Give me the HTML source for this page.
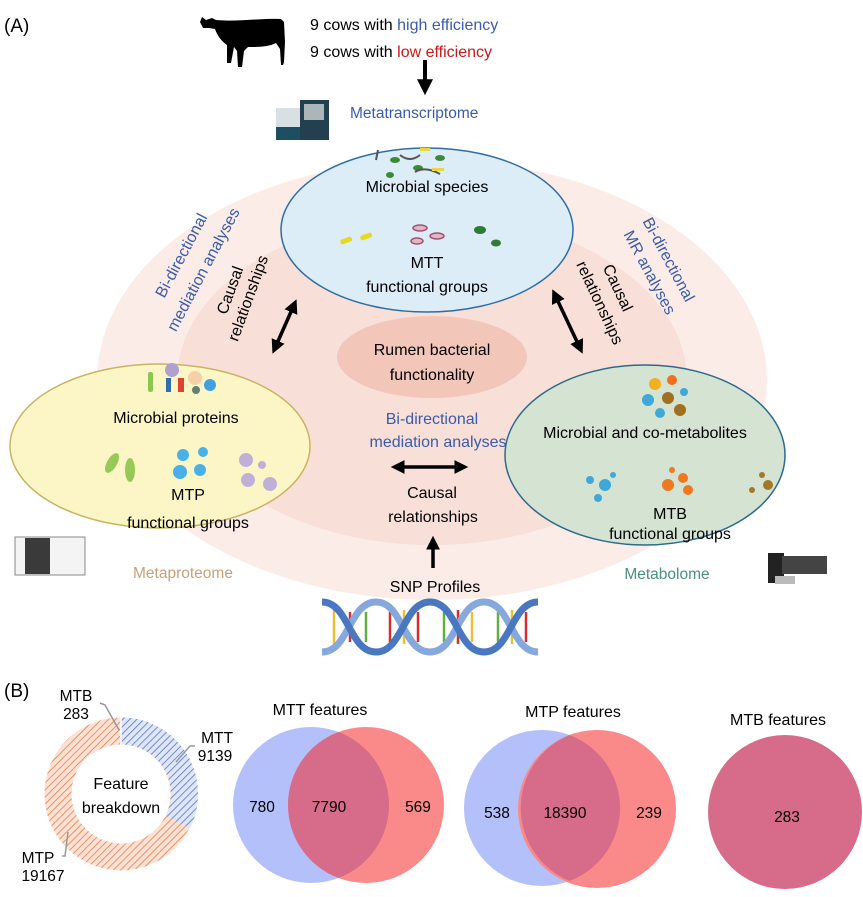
<!DOCTYPE html>
<html><head><meta charset="utf-8"><style>
html,body{margin:0;padding:0;background:#fff}
svg{display:block;font-family:"Liberation Sans",sans-serif}
</style></head><body>
<svg width="863" height="897" viewBox="0 0 863 897" xmlns="http://www.w3.org/2000/svg">
<defs>
<marker id="ah" markerWidth="4" markerHeight="4" refX="2.2" refY="2" orient="auto-start-reverse" markerUnits="strokeWidth"><path d="M0,0 L4,2 L0,4 Z" fill="#000"/></marker>
<pattern id="hb" width="5" height="5" patternUnits="userSpaceOnUse" patternTransform="rotate(45)"><rect width="5" height="5" fill="#dfe6f7"/><line x1="0" y1="0" x2="0" y2="5" stroke="#5575c8" stroke-width="1.6"/></pattern>
<pattern id="ho" width="5" height="5" patternUnits="userSpaceOnUse" patternTransform="rotate(45)"><rect width="5" height="5" fill="#fbe2d6"/><line x1="0" y1="0" x2="0" y2="5" stroke="#ec7c44" stroke-width="1.6"/></pattern>
</defs>
<text x="4" y="32" font-size="19">(A)</text>
<!-- cow -->
<path d="M202,17 l4,3 l6,-2 l4,2 c20,2 45,-2 65,-1 l3,3 l1,20 l-1,20 l-1,3 h-2 l-1,-16 l-4,-6 c-8,4 -18,4 -28,4 l-4,4 l-2,16 h-4 l-1,-16 l-3,-4 l-3,16 h-4 l0,-18 c-6,-4 -10,-10 -12,-16 l-6,-1 l-6,0 l-3,-6 Z" fill="#000"/>
<text x="310" y="30" font-size="16">9 cows with <tspan fill="#3a5ca8">high efficiency</tspan></text>
<text x="310" y="57" font-size="16">9 cows with <tspan fill="#c41a1a">low efficiency</tspan></text>
<line x1="425" y1="60" x2="425" y2="88" stroke="#000" stroke-width="4" marker-end="url(#ah)"/>
<!-- sequencer -->
<rect x="276" y="108" width="24" height="32" fill="#d8e0e4"/><rect x="276" y="127" width="24" height="13" fill="#1d4e62"/>
<rect x="300" y="100" width="29" height="40" fill="#23404e"/><rect x="304" y="104" width="20" height="16" fill="#aab6ba"/>
<text x="350" y="118" font-size="15.5" fill="#3a5ca8">Metatranscriptome</text>
<!-- background rings -->
<ellipse cx="432" cy="380" rx="335" ry="220" fill="#fbece8"/>
<ellipse cx="432" cy="380" rx="255" ry="165" fill="#f8dfd8"/>
<ellipse cx="432" cy="357" rx="95" ry="41" fill="#f2c7b9"/>
<text x="432" y="355" font-size="16" text-anchor="middle">Rumen bacterial</text>
<text x="432" y="380" font-size="16" text-anchor="middle">functionality</text>
<!-- top ellipse -->
<ellipse cx="427" cy="230" rx="146" ry="82" fill="#dcedf7" stroke="#2e6da4" stroke-width="1.5"/>
<g fill="#3a8a3a"><ellipse cx="395" cy="160" rx="5" ry="3"/><ellipse cx="418" cy="168" rx="5" ry="3"/><ellipse cx="440" cy="158" rx="5" ry="3"/><ellipse cx="390" cy="175" rx="4" ry="3"/></g>
<g stroke="#555" stroke-width="2" fill="none"><path d="M400,155 q10,8 20,0"/><path d="M415,172 q10,-6 25,2"/><path d="M378,150 l-2,10"/></g>
<g fill="#e8d840"><rect x="420" y="148" width="10" height="3"/><rect x="432" y="168" width="12" height="3"/></g>
<text x="427" y="192" font-size="16" text-anchor="middle">Microbial species</text>
<g fill="#e8d820"><rect x="340" y="238" width="12" height="5" rx="2" transform="rotate(-20 346 240)"/><rect x="360" y="234" width="12" height="5" rx="2" transform="rotate(-20 366 236)"/></g>
<g stroke="#a05070" stroke-width="1.5" fill="#e0b8c8"><ellipse cx="420" cy="228" rx="7" ry="3"/><ellipse cx="437" cy="236" rx="7" ry="3"/><ellipse cx="417" cy="241" rx="6" ry="3"/></g>
<g fill="#2f7a35"><ellipse cx="480" cy="230" rx="6" ry="4"/><ellipse cx="496" cy="243" rx="5" ry="3.5"/></g>
<text x="427" y="268" font-size="16" text-anchor="middle">MTT</text>
<text x="427" y="292" font-size="16" text-anchor="middle">functional groups</text>
<!-- left ellipse -->
<ellipse cx="160" cy="446" rx="150" ry="82" fill="#fcf6c6" stroke="#c8b460" stroke-width="1.5"/>
<g><rect x="148" y="372" width="5" height="20" rx="2" fill="#8cc850"/><rect x="166" y="378" width="5" height="14" fill="#2f6fb0"/><rect x="178" y="378" width="6" height="14" fill="#e04030"/><circle cx="172" cy="370" r="7" fill="#b0a0d0"/><circle cx="195" cy="378" r="7" fill="#f8d0a8"/><circle cx="210" cy="385" r="6" fill="#40a0e0"/><circle cx="196" cy="390" r="4" fill="#608070"/></g>
<text x="176" y="423" font-size="16" text-anchor="middle">Microbial proteins</text>
<g fill="#98c858"><ellipse cx="112" cy="463" rx="5" ry="11" transform="rotate(30 112 463)"/><ellipse cx="130" cy="470" rx="5" ry="12"/></g>
<g fill="#4ab0e8"><circle cx="183" cy="455" r="6"/><circle cx="203" cy="452" r="5"/><circle cx="180" cy="472" r="7"/><circle cx="200" cy="470" r="6"/></g>
<g fill="#c0b0d8"><circle cx="246" cy="460" r="7"/><circle cx="262" cy="465" r="4"/><circle cx="248" cy="480" r="7"/><circle cx="270" cy="484" r="7"/></g>
<text x="188" y="500" font-size="16" text-anchor="middle">MTP</text>
<text x="188" y="528" font-size="16" text-anchor="middle">functional groups</text>
<rect x="15" y="537" width="70" height="38" fill="#f4f4f4" stroke="#888"/><rect x="25" y="538" width="25" height="36" fill="#3a3a3a"/>
<text x="183" y="578" font-size="15.5" fill="#c8a078" text-anchor="middle">Metaproteome</text>
<!-- right ellipse -->
<ellipse cx="645" cy="455" rx="140" ry="90" fill="#d5e3d3" stroke="#2b6a8c" stroke-width="1.5"/>
<g><circle cx="655" cy="384" r="6" fill="#f0b020"/><circle cx="672" cy="380" r="5" fill="#f07020"/><circle cx="648" cy="400" r="6" fill="#40a8d8"/><circle cx="668" cy="398" r="6" fill="#a07020"/><circle cx="680" cy="410" r="6" fill="#a07020"/><circle cx="660" cy="413" r="5" fill="#40a8d8"/><circle cx="684" cy="392" r="4" fill="#40a8d8"/></g>
<text x="645" y="438" font-size="16" text-anchor="middle">Microbial and co-metabolites</text>
<g fill="#40a8d8"><circle cx="590" cy="480" r="4"/><circle cx="605" cy="485" r="6"/><circle cx="598" cy="498" r="4"/><circle cx="613" cy="475" r="3"/></g>
<g fill="#f07820"><circle cx="672" cy="470" r="3"/><circle cx="683" cy="478" r="5"/><circle cx="668" cy="485" r="6"/><circle cx="688" cy="490" r="5"/></g>
<g fill="#a07828"><circle cx="762" cy="475" r="3"/><circle cx="768" cy="485" r="5"/><circle cx="752" cy="490" r="3"/></g>
<text x="670" y="519" font-size="16" text-anchor="middle">MTB</text>
<text x="670" y="539" font-size="16" text-anchor="middle">functional groups</text>
<rect x="768" y="553" width="16" height="30" fill="#222"/><rect x="782" y="556" width="45" height="18" fill="#444"/><rect x="775" y="576" width="20" height="8" fill="#bbb"/>
<text x="667" y="579" font-size="15.5" fill="#4a9080" text-anchor="middle">Metabolome</text>
<!-- rotated labels -->
<g font-size="16" fill="#3a5ca8" text-anchor="middle">
<text transform="translate(186,258) rotate(-62)">Bi-directional</text>
<text transform="translate(208,272) rotate(-62)">mediation analyses</text>
<text transform="translate(664,262) rotate(62)">Bi-directional</text>
<text transform="translate(645,275) rotate(62)">MR analyses</text>
<text x="432" y="424">Bi-directional</text>
<text x="438" y="447">mediation analyses</text>
</g>
<g font-size="16" text-anchor="middle">
<text transform="translate(235,292) rotate(-70)">Causal</text>
<text transform="translate(253,300) rotate(-70)">relationships</text>
<text transform="translate(613,290) rotate(65)">Causal</text>
<text transform="translate(595,305) rotate(65)">relationships</text>
<text x="432" y="498">Causal</text>
<text x="433" y="522">relationships</text>
</g>
<g stroke="#000" stroke-width="3.5">
<line x1="294" y1="305" x2="275" y2="348" marker-start="url(#ah)" marker-end="url(#ah)"/>
<line x1="555" y1="295" x2="580" y2="348" marker-start="url(#ah)" marker-end="url(#ah)"/>
<line x1="397" y1="467" x2="462" y2="467" marker-start="url(#ah)" marker-end="url(#ah)"/>
<line x1="433" y1="568" x2="433" y2="542" marker-end="url(#ah)"/>
</g>
<text x="435" y="592" font-size="16" text-anchor="middle">SNP Profiles</text>
<!-- DNA -->
<g stroke-width="2.5">
<line x1="334" y1="610" x2="334" y2="644" stroke="#e8c030"/><line x1="350" y1="612" x2="350" y2="642" stroke="#d03030"/>
<line x1="366" y1="612" x2="366" y2="642" stroke="#60b040"/>
<line x1="390" y1="612" x2="390" y2="644" stroke="#d03030"/><line x1="404" y1="610" x2="404" y2="644" stroke="#e8c030"/>
<line x1="418" y1="612" x2="418" y2="642" stroke="#d03030"/>
<line x1="444" y1="612" x2="444" y2="642" stroke="#60b040"/><line x1="458" y1="610" x2="458" y2="644" stroke="#d03030"/>
<line x1="472" y1="612" x2="472" y2="642" stroke="#e8c030"/>
<line x1="498" y1="612" x2="498" y2="642" stroke="#60b040"/><line x1="512" y1="610" x2="512" y2="644" stroke="#e8c030"/>
<line x1="526" y1="612" x2="526" y2="642" stroke="#d03030"/>
</g>
<g fill="none" stroke-width="7">
<path d="M322,652 C349,652 349,602 376,602 C403,602 403,652 430,652 C457,652 457,602 484,602 C511,602 511,652 538,652" stroke="#86a8dc"/>
<path d="M322,602 C349,602 349,652 376,652 C403,652 403,602 430,602 C457,602 457,652 484,652 C511,652 511,602 538,602" stroke="#4a78c0"/>
</g>
<!-- (B) -->
<text x="4" y="697" font-size="19">(B)</text>
<circle cx="121" cy="794" r="63" fill="none" stroke="url(#ho)" stroke-width="27"/>
<path d="M121,731 A63,63 0 0 1 178,822" fill="none" stroke="url(#hb)" stroke-width="27"/>
<line x1="121" y1="716" x2="121" y2="744" stroke="#fff" stroke-width="1.5"/>
<text x="121" y="789" font-size="16" text-anchor="middle">Feature</text>
<text x="121" y="813" font-size="16" text-anchor="middle">breakdown</text>
<g stroke="#999" stroke-width="1.5" fill="none"><polyline points="100,703 105,705 119,730"/><polyline points="195,746 190,746 176,762"/><polyline points="62,856 65,856 68,832"/></g>
<g font-size="15.5" text-anchor="middle"><text x="76" y="701">MTB</text><text x="76" y="719">283</text><text x="217" y="743">MTT</text><text x="215" y="761">9139</text><text x="38" y="863">MTP</text><text x="43" y="881">19167</text></g>
<circle cx="311" cy="805" r="78" fill="#b4c0fa"/>
<circle cx="366" cy="805" r="78" fill="#fa8a8a"/>
<path d="M338.5,732 A78,78 0 0 1 338.5,878 A78,78 0 0 1 338.5,732Z" fill="#d76c8a"/>
<text x="320" y="715" font-size="16" text-anchor="middle">MTT features</text>
<text x="262" y="812" font-size="15.5" text-anchor="middle">780</text>
<text x="329" y="812" font-size="15.5" text-anchor="middle">7790</text>
<text x="418" y="812" font-size="15.5" text-anchor="middle">569</text>
<circle cx="542" cy="808" r="78" fill="#b4c0fa"/>
<circle cx="597" cy="809" r="79" fill="#fa8a8a"/>
<path d="M569.5,735 A78,78 0 0 1 569.5,881 A79,79 0 0 1 569.5,735Z" fill="#d76c8a"/>
<text x="573" y="717" font-size="16" text-anchor="middle">MTP features</text>
<text x="497" y="818" font-size="15.5" text-anchor="middle">538</text>
<text x="565" y="818" font-size="15.5" text-anchor="middle">18390</text>
<text x="649" y="818" font-size="15.5" text-anchor="middle">239</text>
<circle cx="785" cy="812" r="77" fill="#d76c8a"/>
<text x="778" y="725" font-size="16" text-anchor="middle">MTB features</text>
<text x="787" y="822" font-size="15.5" text-anchor="middle">283</text>
</svg>
</body></html>
